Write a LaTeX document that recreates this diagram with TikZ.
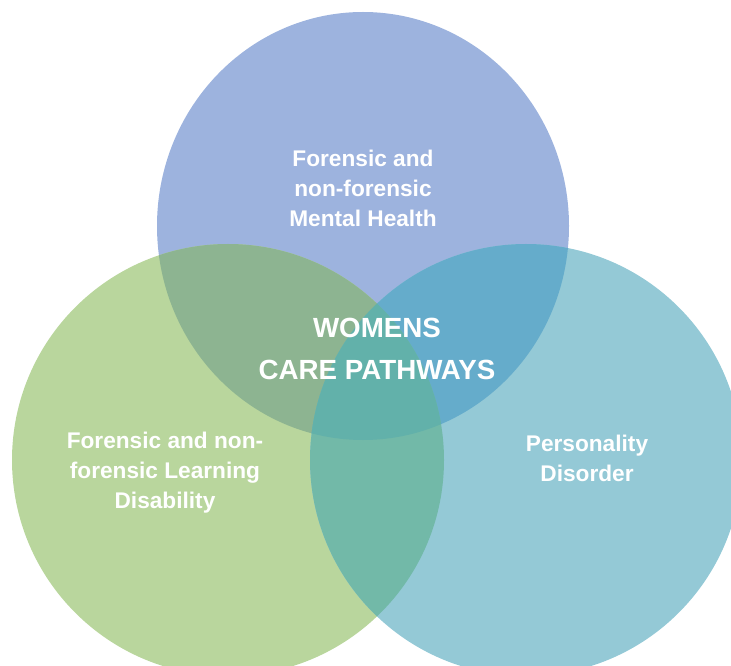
\documentclass[tikz,border=0pt]{standalone}
\usepackage{fontspec}
\setmainfont{Liberation Sans}

\definecolor{mhblue}{RGB}{157,179,222}
\definecolor{ldgreen}{RGB}{185,214,157}
\definecolor{pdteal}{RGB}{148,201,214}
\definecolor{bluegreen}{RGB}{141,180,145}
\definecolor{blueteal}{RGB}{101,172,203}
\definecolor{greenteal}{RGB}{114,185,168}
\definecolor{allthree}{RGB}{98,177,170}

\tikzset{every picture/.style={line width=0.75pt}}
\tikzset{
  circtext/.style={text=white, align=center, inner sep=0.75pt,
    font=\bfseries\fontsize{17}{22.5}\selectfont},
  maintext/.style={text=white, align=center, inner sep=0.75pt,
    font=\bfseries\fontsize{20.8}{31.5}\selectfont}
}

\begin{document}
\begin{tikzpicture}[x=0.75pt,y=0.75pt,yscale=-1,xscale=1]
    \useasboundingbox (0,0) rectangle (731,666);
    \clip (0,0) rectangle (731,666);

    %Circle centres
    \coordinate (mhc) at (363,226);
    \coordinate (ldc) at (228,460);
    \coordinate (pdc) at (526,460);

    %Circles
    \fill [mhblue] (mhc) ellipse (206 and 214);
    \fill [ldgreen] (ldc) circle (216);
    \fill [pdteal] (pdc) circle (216);

    %Overlaps
    \begin{scope}
      \clip (mhc) ellipse (206 and 214);
      \fill [bluegreen] (ldc) circle (216);
      \fill [blueteal] (pdc) circle (216);
    \end{scope}
    \begin{scope}
      \clip (ldc) circle (216);
      \fill [greenteal] (pdc) circle (216);
      \clip (pdc) circle (216);
      \fill [allthree] (mhc) ellipse (206 and 214);
    \end{scope}

    % Text Node
    \node [circtext] (mh) at (363,188) {Forensic and\\non-forensic\\Mental Health};
    % Text Node
    \node [maintext] (wcp) at (377,349) {WOMENS\\CARE PATHWAYS};
    % Text Node
    \node [circtext] (ld) at (165,473) {Forensic and non-\\forensic Learning\\Disability};
    % Text Node
    \node [circtext] (pd) at (587,458) {Personality\\Disorder};

\end{tikzpicture}
\end{document}
